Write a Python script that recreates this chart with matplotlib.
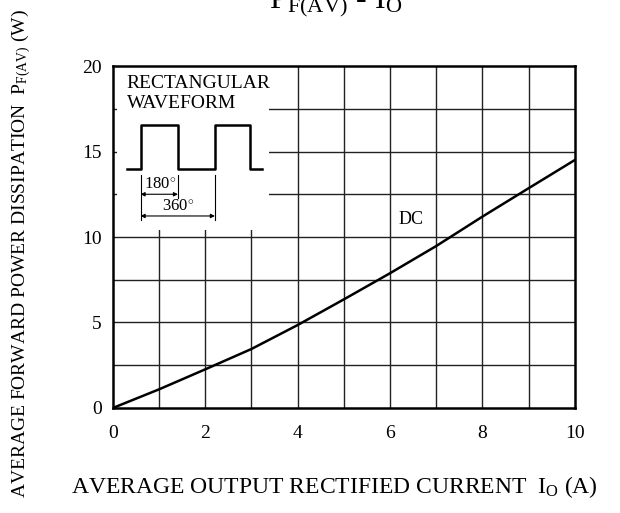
import matplotlib.pyplot as plt
from matplotlib.patches import Rectangle

plt.rcParams['font.family'] = ['Liberation Serif', 'DejaVu Serif']
plt.rcParams['mathtext.fontset'] = 'custom'
plt.rcParams['mathtext.rm'] = 'Liberation Serif'
plt.rcParams['mathtext.it'] = 'Liberation Serif:italic'

# DC curve
io_amps = [0, 1, 2, 3, 4, 5, 6, 7, 8, 9, 10]
pf_watts = [0, 1.09, 2.26, 3.45, 4.85, 6.35, 7.88, 9.47, 11.19, 12.85, 14.5]

x_ticks = [0, 2, 4, 6, 8, 10]
y_ticks = [0, 5, 10, 15, 20]

# rectangular waveform sketch in the inset (data coords)
wave_x = [0.31, 0.60, 0.60, 1.41, 1.41, 2.21, 2.21, 2.97, 2.97, 3.24]
wave_y = [14.0, 14.0, 16.55, 16.55, 14.0, 14.0, 16.55, 16.55, 14.0, 14.0]

fig = plt.figure(figsize=(6.2, 5.13), dpi=100)
ax = fig.add_axes([0.182, 0.2047, 0.745, 0.6666])

ax.set_xlim(0, 10)
ax.set_ylim(0, 20)

# grid
for gx in range(1, 10):
    ax.axvline(gx, color='#222222', lw=1.0, zorder=1)
for k in range(1, 8):
    ax.axhline(k * 2.5, color='#222222', lw=1.0, zorder=1)

ax.plot(io_amps, pf_watts, color='black', lw=1.8, zorder=3)
ax.text(6.45, 11.0, 'DC', fontsize=13, ha='center', va='center', zorder=4)

# inset box with the waveform
ax.add_patch(Rectangle((0.09, 10.4), 3.29, 9.6, facecolor='white', edgecolor='none', zorder=2))
ax.text(0.3, 19.0, 'RECTANGULAR', fontsize=14, ha='left', va='center', zorder=4)
ax.text(0.3, 17.8, 'WAVEFORM', fontsize=14, ha='left', va='center', zorder=4)
ax.plot(wave_x, wave_y, color='black', lw=1.8, zorder=4)

ax.plot([0.60, 0.60], [13.6, 11.0], color='black', lw=0.8, zorder=4)
ax.plot([1.41, 1.41], [13.6, 12.3], color='black', lw=0.8, zorder=4)
ax.plot([2.21, 2.21], [13.6, 11.0], color='black', lw=0.8, zorder=4)
ax.annotate('', xy=(0.60, 12.5), xytext=(1.41, 12.5),
            arrowprops=dict(arrowstyle='<|-|>', color='black', lw=0.8,
                            mutation_scale=6, shrinkA=0, shrinkB=0), zorder=4)
ax.annotate('', xy=(0.60, 11.23), xytext=(2.21, 11.23),
            arrowprops=dict(arrowstyle='<|-|>', color='black', lw=0.8,
                            mutation_scale=6, shrinkA=0, shrinkB=0), zorder=4)
ax.text(1.02, 13.05, '180$^{\\circ}$', fontsize=12, ha='center', va='center', zorder=4)
ax.text(1.41, 11.75, '360$^{\\circ}$', fontsize=12, ha='center', va='center', zorder=4)

ax.set_xticks(x_ticks)
ax.set_yticks(y_ticks)
ax.tick_params(axis='both', length=0, labelsize=14)
ax.tick_params(axis='x', pad=12)
ax.tick_params(axis='y', pad=8)
for s in ax.spines.values():
    s.set_linewidth(1.8)
    s.set_zorder(5)

fig.text(0.54, 0.05, r'AVERAGE OUTPUT RECTIFIED CURRENT  I$_{\mathrm{O}}$ (A)',
         fontsize=17, ha='center', va='center')
fig.text(0.034, 0.505, r'AVERAGE FORWARD POWER DISSIPATION  P$_{\mathrm{F(AV)}}$ (W)',
         fontsize=14, ha='center', va='center', rotation=90)
fig.text(0.542, 0.984, r'P$_{\mathrm{F(AV)}}$ - I$_{\mathrm{O}}$',
         fontsize=23, ha='center', va='baseline')

fig.savefig('out.png', dpi=100)
